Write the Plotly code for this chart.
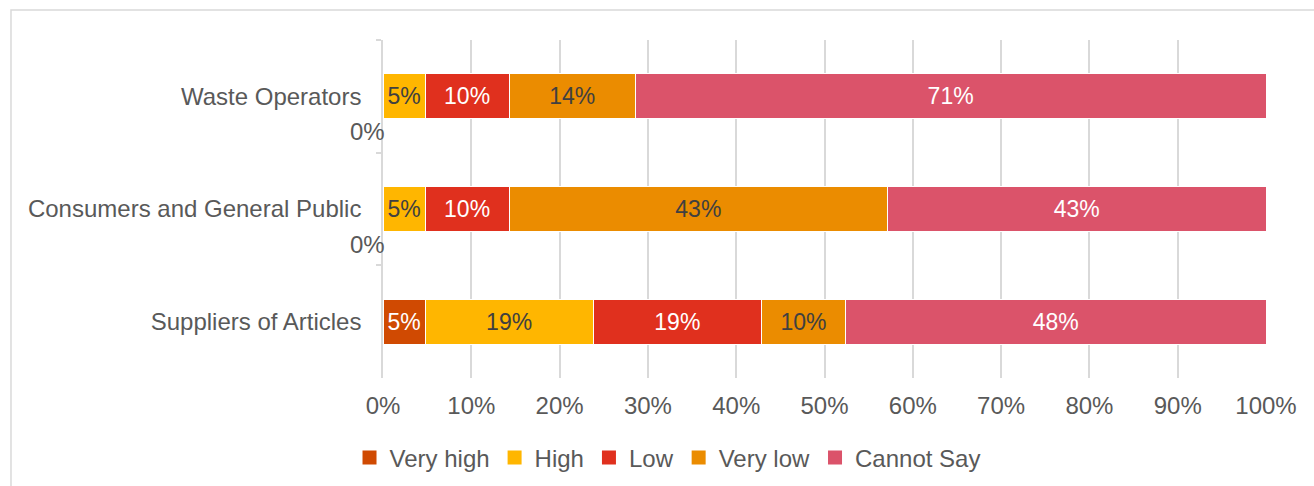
import plotly.graph_objects as go

# Stakeholder groups, top to bottom
groups = ["Waste Operators", "Consumers and General Public", "Suppliers of Articles"]

# Share of responses per rating (%)
very_high = [0.0, 0.0, 4.76]
high = [4.76, 4.76, 19.05]
low = [9.52, 9.52, 19.05]
very_low = [14.29, 42.86, 9.52]
cannot_say = [71.43, 42.86, 47.62]

series = [
    ("Very high", very_high, "#D04A02", "white"),
    ("High", high, "#FFB600", "#404040"),
    ("Low", low, "#E0301E", "white"),
    ("Very low", very_low, "#EB8C00", "#404040"),
    ("Cannot Say", cannot_say, "#DB536A", "white"),
]

FONT = "Liberation Sans, Arial, sans-serif"
GRID = "#d9d9d9"
TXT = "#595959"
SIZE = 24

fig = go.Figure()
for name, vals, color, tcolor in series:
    fig.add_trace(go.Bar(
        name=name,
        y=groups,
        x=vals,
        orientation="h",
        marker=dict(color=color, line=dict(color="white", width=1)),
        text=[f"{round(v)}%" if v > 0 else "" for v in vals],
        textposition="inside",
        insidetextanchor="middle",
        textangle=0,
        textfont=dict(family=FONT, size=23, color=tcolor),
        hoverinfo="skip",
        showlegend=False,
    ))

# legend entries with square swatches
for name, vals, color, tcolor in series:
    fig.add_trace(go.Scatter(
        name=name,
        x=[None], y=[None],
        mode="markers",
        marker=dict(symbol="square", size=14, color=color),
        showlegend=True,
        hoverinfo="skip",
    ))

# zero-valued "Very high" labels sit just under their bar at the axis
annotations = []
for g, v in zip(groups, very_high):
    if v == 0:
        annotations.append(dict(
            x=0, y=g, xref="x", yref="y", text=f"{round(v)}%",
            showarrow=False, xanchor="center", yanchor="middle",
            xshift=-16, yshift=-35,
            font=dict(family=FONT, size=SIZE, color=TXT),
        ))

fig.update_layout(
    barmode="stack",
    bargap=0.6,
    width=1314,
    height=486,
    margin=dict(l=383, r=48, t=40, b=108),
    paper_bgcolor="white",
    plot_bgcolor="white",
    font=dict(family=FONT, size=SIZE, color=TXT),
    uniformtext=dict(minsize=23, mode="show"),
    xaxis=dict(
        range=[0, 100],
        dtick=10,
        ticksuffix="%",
        showgrid=True,
        gridcolor=GRID,
        gridwidth=1.5,
        zeroline=False,
        showline=False,
        ticks="",
        ticklabelstandoff=11,
        tickfont=dict(family=FONT, size=SIZE, color=TXT),
        fixedrange=True,
    ),
    yaxis=dict(
        categoryorder="array",
        categoryarray=groups,
        autorange="reversed",
        showline=True,
        linecolor=GRID,
        linewidth=1.5,
        ticks="outside",
        tickson="boundaries",
        ticklen=5,
        tickcolor=GRID,
        tickwidth=1.5,
        showgrid=False,
        ticklabelstandoff=15,
        tickfont=dict(family=FONT, size=SIZE, color=TXT),
        fixedrange=True,
    ),
    legend=dict(
        orientation="h",
        xref="container",
        yref="container",
        x=0.508,
        y=0.058,
        xanchor="center",
        yanchor="middle",
        font=dict(family=FONT, size=SIZE, color=TXT),
        traceorder="normal",
        itemwidth=30,
        tracegroupgap=0,
    ),
    annotations=annotations,
    shapes=[dict(
        type="rect", xref="paper", yref="paper",
        x0=-0.4213, x1=1.2, y0=-0.5, y1=1.0888,
        line=dict(color=GRID, width=1.5),
        fillcolor="rgba(0,0,0,0)",
        layer="below",
    )],
)

fig.write_html("out.html")
